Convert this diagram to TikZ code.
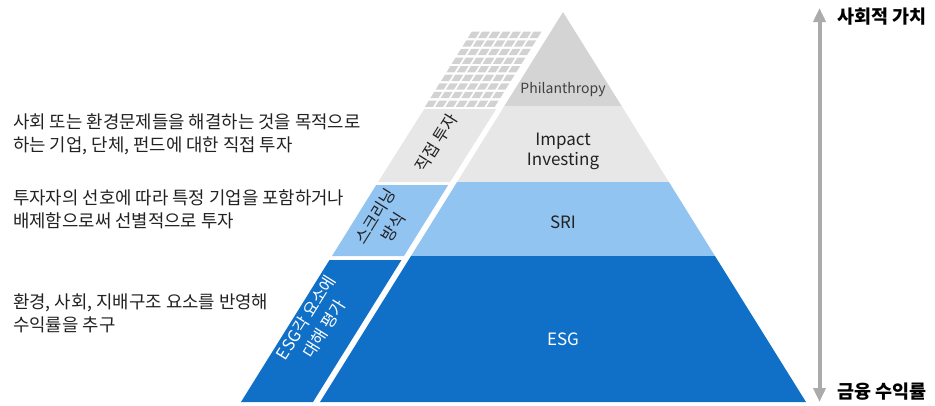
\documentclass[tikz,border=0pt]{standalone}
\usepackage{fontspec}
\setmainfont{Noto Sans CJK KR}
\usetikzlibrary{arrows.meta}
\definecolor{PhilGrey}{HTML}{D4D4D4}
\definecolor{ImpactGrey}{HTML}{E7E7E7}
\definecolor{GridGrey}{HTML}{D2D2D2}
\definecolor{SriBlue}{HTML}{92C4F2}
\definecolor{EsgBlue}{HTML}{106FC6}
\definecolor{AxisGrey}{HTML}{ABABAB}
\definecolor{InkGrey}{HTML}{222222}

\begin{document}
\begin{tikzpicture}[
  x=1pt,y=-1pt,
  every node/.style={inner sep=0pt,text=InkGrey},
  desc/.style={anchor=west,align=left,font=\fontsize{17.8}{23}\selectfont},
  level/.style={align=center,font=\fontsize{17}{20}\selectfont},
  side/.style={align=center,rotate=58,font=\fontsize{16.5}{21.5}\selectfont},
  axislabel/.style={anchor=west,font=\fontsize{18.5}{20}\selectfont\bfseries,text=black},
  axis/.style={AxisGrey,line width=4pt,
    {Triangle[width=12pt,length=14pt]}-{Triangle[width=12pt,length=14pt]}}
]
\useasboundingbox (0,0) rectangle (935,405);

% main pyramid, four bands
\fill[PhilGrey] (563,12) -- (621.6,106) -- (504.4,106) -- cycle;
\fill[ImpactGrey] (504.4,106) -- (621.6,106) -- (668.9,182) -- (457.1,182) -- cycle;
\fill[SriBlue] (457.1,182) -- (668.9,182) -- (715,256) -- (411,256) -- cycle;
\fill[EsgBlue] (411,256) -- (715,256) -- (806,402) -- (320,402) -- cycle;

% slanted strip beside the pyramid
\fill[ImpactGrey] (424.2,109) -- (496.2,109) -- (450.1,182) -- (378.1,182) -- cycle;
\fill[SriBlue] (376.2,185) -- (448.2,185) -- (404,256) -- (332,256) -- cycle;
\fill[EsgBlue] (329.5,260) -- (401.5,260) -- (313,402) -- (241,402) -- cycle;

% sheared tiles on top of the strip
\foreach \r in {0,...,8}{
  \pgfmathsetmacro{\yt}{31.7+8.6*\r}
  \pgfmathsetmacro{\yb}{\yt+6.3}
  \pgfmathsetmacro{\xt}{241+0.6231*(402-\yt)}
  \pgfmathsetmacro{\xb}{241+0.6231*(402-\yb)}
  \foreach \c in {0,...,6}{
    \fill[GridGrey] ({\xt+10.3*\c},\yt) -- ({\xt+10.3*\c+8},\yt)
      -- ({\xb+10.3*\c+8},\yb) -- ({\xb+10.3*\c},\yb) -- cycle;
  }
}

% level names
\node[level,font=\fontsize{14}{17}\selectfont,text=black!75] (phil) at (563,90) {Philanthropy};
\node[level] (impact) at (563,151) {Impact\\Investing};
\node[level] (sri) at (563,222) {SRI};
\node[level,text=white] (esg) at (563,339) {ESG};

% strip labels
\node[side] (direct) at (436,143) {직접 투자};
\node[side] (screen) at (384,222) {스크리닝\\방식};
\node[side,text=white] (eval) at (315,323) {ESG각 요소에\\대해 평가};

% descriptions on the left
\node[desc] (d-impact) at (13,134) {사회 또는 환경문제들을 해결하는 것을 목적으로\\하는 기업, 단체, 펀드에 대한 직접 투자};
\node[desc] (d-sri) at (13,209.5) {투자자의 선호에 따라 특정 기업을 포함하거나\\배제함으로써 선별적으로 투자};
\node[desc] (d-esg) at (13,313.5) {환경, 사회, 지배구조 요소를 반영해\\수익률을 추구};

% value axis
\node[axislabel] (social) at (837,16.5) {사회적 가치};
\node[axislabel] (return) at (837,391.5) {금융 수익률};
\coordinate (top) at (819.5,8);
\coordinate (bottom) at (819.5,402);
\draw[axis] (top) -- (bottom);
\end{tikzpicture}
\end{document}
